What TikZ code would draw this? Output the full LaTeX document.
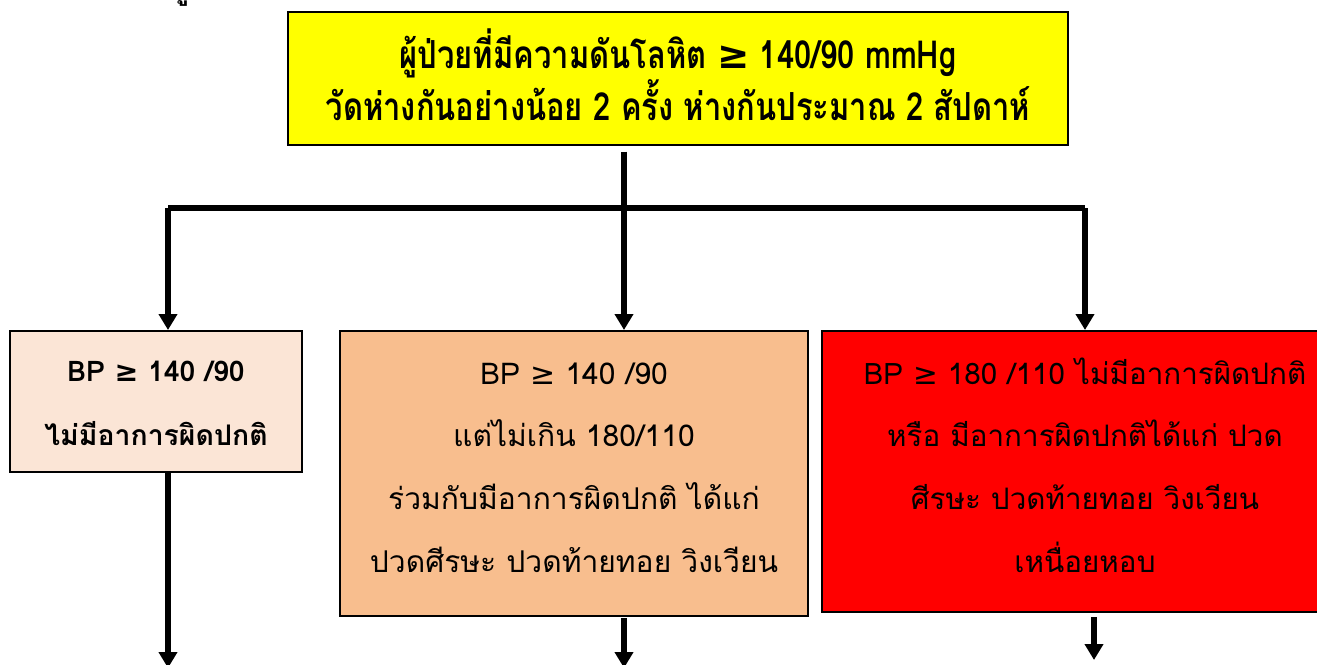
\documentclass[tikz,border=0pt]{standalone}
\usepackage{fontspec}
\setmainfont[Script=Thai]{Loma}
\newfontfamily\thaicond[Script=Thai,FakeStretch=0.8]{Loma}
\newfontfamily\symfont{DejaVu Sans}
\usetikzlibrary{arrows.meta}
\tikzset{>={Triangle[width=13.5pt,length=12pt]}}
\newcommand{\gesign}{{\symfont ≥}}
\definecolor{boxyellow}{HTML}{FFFF00}
\definecolor{boxred}{HTML}{FF0000}
\definecolor{peachlight}{HTML}{FBE5D6}
\definecolor{peachmid}{HTML}{F8BE8E}

\begin{document}
\begin{tikzpicture}[x=0.75pt,y=-0.75pt,
    box/.style={draw=black,line width=1.5pt,inner sep=0pt},
    boxtext/.style={align=center,inner sep=0pt},
    conn/.style={line width=4.5pt,black}]
  \useasboundingbox (0,0) rectangle (1317,664);
  \node[font=\bfseries\fontsize{21}{25}\selectfont,anchor=base] (cut) at (181,-1) {ผู};
  \node[box,fill=boxyellow,minimum width=585pt,minimum height=100pt] (top) at (678,78.5) {};
  \node[box,fill=peachlight,minimum width=219pt,minimum height=105.75pt] (low) at (156,401.5) {};
  \node[box,fill=peachmid,minimum width=351pt,minimum height=213.75pt] (mid) at (574,473.5) {};
  \node[box,fill=boxred,minimum width=394.5pt,minimum height=210.75pt] (high) at (1085,471.5) {};
  \node[boxtext,font=\thaicond\bfseries\fontsize{29}{33}\selectfont] (toptext) at ([yshift=3pt]top.center)
       {ผู้ป่วยที่มีความดันโลหิต \gesign{} 140/90 mmHg\\
        วัดห่างกันอย่างน้อย 2 ครั้ง ห่างกันประมาณ 2 สัปดาห์};
  \node[boxtext,font=\bfseries\fontsize{21.3}{47.5}\selectfont] (lowtext) at ([yshift=-1.5pt]low.center)
       {BP \gesign{} 140 /90\\ ไม่มีอาการผิดปกติ};
  \node[boxtext,font=\fontsize{22.5}{47}\selectfont] (midtext) at ([yshift=4.5pt]mid.center)
       {BP \gesign{} 140 /90\\ แต่ไม่เกิน 180/110\\ ร่วมกับมีอาการผิดปกติ ได้แก่\\ ปวดศีรษะ ปวดท้ายทอย วิงเวียน};
  \node[boxtext,font=\fontsize{22.2}{47}\selectfont] (hightext) at ([yshift=5pt]high.center)
       {BP \gesign{} 180 /110 ไม่มีอาการผิดปกติ\\ หรือ มีอาการผิดปกติได้แก่ ปวด\\ ศีรษะ ปวดท้ายทอย วิงเวียน\\ เหนื่อยหอบ};
  \coordinate (jl) at (168,208);
  \coordinate (jm) at (624,208);
  \coordinate (jr) at (1085,208);
  \coordinate (el) at (168,668);
  \coordinate (em) at (624,668);
  \coordinate (er) at (1094,660);
  \draw[conn,shorten <=4pt] (top.south -| jm) -- (jm);
  \draw[conn] (jl) -- (jr);
  \draw[conn,->] (jl) -- (jl |- low.north);
  \draw[conn,->] (jm) -- (jm |- mid.north);
  \draw[conn,->] (jr) -- (jr |- high.north);
  \draw[conn,->] (low.south -| el) -- (el);
  \draw[conn,->,shorten <=1pt] (mid.south -| em) -- (em);
  \draw[conn,->,shorten <=3pt] (high.south -| er) -- (er);
\end{tikzpicture}
\end{document}
